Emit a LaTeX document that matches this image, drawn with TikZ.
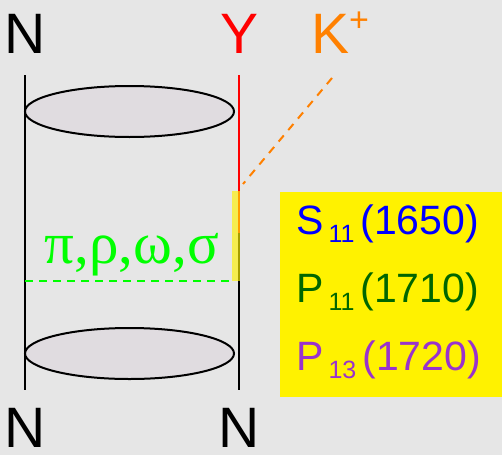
\documentclass[tikz,border=0pt]{standalone}
\usepackage{fontspec}
\setmainfont{Liberation Sans}
\newfontfamily\greekserif{Liberation Serif}
\definecolor{bggray}{HTML}{E6E6E6}
\definecolor{ellfill}{HTML}{E0DCE0}
\definecolor{kor}{HTML}{FF8000}
\definecolor{lgreen}{HTML}{00FF00}
\definecolor{dgreen}{HTML}{006600}
\definecolor{purp}{HTML}{9933CC}
\newcommand{\subnum}[1]{\hspace{5pt}\raisebox{-8pt}{\fontsize{25}{27}\selectfont #1}\hspace{6pt}}
\begin{document}
\begin{tikzpicture}[x=1pt,y=-1pt,
  big/.style={font=\fontsize{57}{60}\selectfont, inner sep=0pt, anchor=base, text depth=0pt},
  res/.style={font=\fontsize{41}{44}\selectfont, inner sep=0pt, anchor=base west},
  disk/.style={draw=black, line width=2pt, fill=ellfill},
  leg/.style={line width=2pt}]
\fill[bggray] (0,0) rectangle (502,455);
\useasboundingbox (0,0) rectangle (502,455);
% labels
\node[big] (nTL) at (25.5,53) {N};
\node[big, text=red] (yT) at (240,53) {Y};
\node[big, anchor=base west, text=kor] (kT) at (311,53) {K\raisebox{22pt}{\fontsize{34}{36}\selectfont +}};
\node[big] (nBL) at (25.5,447) {N};
\node[big] (nBR) at (239.5,447) {N};
% coordinates
\coordinate (lt) at (25,75);
\coordinate (lb) at (25,390);
\coordinate (rt) at (239,75);
\coordinate (rm) at (239,233);
\coordinate (rb) at (239,390);
\coordinate (kd1) at (332,78);
\coordinate (kd2) at (243,184);
\coordinate (gl) at (25,281);
\coordinate (gr) at (233,281);
% legs
\draw[leg] (lt) -- (lb);
\draw[leg, red] (rt) -- (rm);
\draw[leg] (rm) -- (rb);
% ellipses
\draw[disk] (129.5,111.5) ellipse [x radius=104.5, y radius=25.5];
\draw[disk] (129.5,353.5) ellipse [x radius=104.5, y radius=25.5];
% K+ dashed
\draw[kor, line width=2pt, dash pattern=on 8pt off 7pt] (kd1) -- (kd2);
% meson exchange
\draw[lgreen, line width=2pt, dash pattern=on 8pt off 6pt] (gl) -- (gr);
\node[font=\greekserif\fontsize{59}{61}\selectfont, text=lgreen, inner sep=0pt, anchor=base] (mes) at (132,263) {π,ρ,ω,σ};
% yellow strip
\fill[yellow, opacity=0.65] (232,191) rectangle (239.5,281);
% yellow box
\fill[yellow] (280,192) rectangle (502,397);
\node[res, text=blue] (s11) at (296,234) {S\subnum{11}(1650)};
\node[res, text=dgreen] (p11) at (296,302) {P\subnum{11}(1710)};
\node[res, text=purp] (p13) at (296,370) {P\subnum{13}(1720)};
\end{tikzpicture}
\end{document}
